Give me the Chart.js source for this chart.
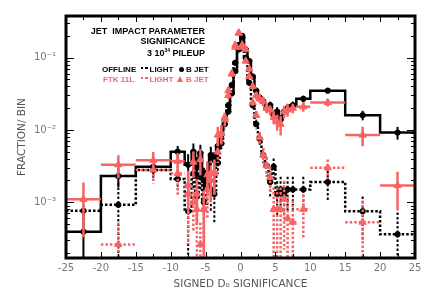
<!DOCTYPE html>
<html lang="en">
<head>
<meta charset="UTF-8">
<title>Jet impact parameter significance</title>
<script src="https://cdn.jsdelivr.net/npm/chart.js"></script>
<style>
  html, body { margin: 0; padding: 0; background: #fff; }
  #wrap { position: relative; width: 436px; height: 295px; }
  #chart { position: absolute; left: 0; top: 0; }
  .note { position: absolute; z-index: 2; font-family: "Liberation Sans", Arial, sans-serif;
          font-weight: bold; line-height: 1; white-space: nowrap; color: #000; }
  .big { font-size: 9px; }
  .small { font-size: 8px; }
  .red { color: #f86464; }
  .note sup { font-size: 5px; vertical-align: 4px; }
  .dots { position: absolute; z-index: 2; width: 7px; height: 2.5px; }
  .dot { position: absolute; z-index: 2; width: 5px; height: 5px; border-radius: 50%; background: #000; }
  .tri { position: absolute; z-index: 2; width: 0; height: 0; border-left: 3.5px solid transparent;
         border-right: 3.5px solid transparent; border-bottom: 6px solid #f86464; }
</style>
</head>
<body>
<div id="wrap">
  <canvas id="chart" width="436" height="295"></canvas>
  <div class="note big" style="right:231px; top:27px;">JET&nbsp; IMPACT PARAMETER</div>
  <div class="note big" style="right:231px; top:37px;">SIGNIFICANCE</div>
  <div class="note big" style="right:231px; top:48px;">3 10<sup>34</sup> PILEUP</div>

  <div class="note small" style="left:102px; top:65.5px;">OFFLINE</div>
  <div class="dots" style="left:141px; top:66.5px; background:repeating-linear-gradient(90deg,#000 0 2.5px,transparent 2.5px 4.5px);"></div>
  <div class="note small" style="left:149.5px; top:65.5px;">LIGHT</div>
  <div class="dot" style="left:178.5px; top:66.5px;"></div>
  <div class="note small" style="left:186px; top:65.5px;">B JET</div>

  <div class="note small red" style="left:103px; top:75.5px;">FTK 11L</div>
  <div class="dots" style="left:141px; top:76.5px; background:repeating-linear-gradient(90deg,#f86464 0 2.5px,transparent 2.5px 4.5px);"></div>
  <div class="note small red" style="left:149.5px; top:75.5px;">LIGHT</div>
  <div class="tri" style="left:177px; top:76px;"></div>
  <div class="note small red" style="left:186px; top:75.5px;">B JET</div>
</div>
<script>
// bin edges of the histograms (signed d0 significance)
const binEdges = [-25, -20, -15, -10, -8, -7, -6.5, -6, -5.5, -5, -4.5, -4, -3.5, -3, -2.5, -2, -1.5, -1, -0.5, 0,
                  0.5, 1, 1.5, 2, 2.5, 3, 3.5, 4, 4.5, 5, 5.5, 6, 6.5, 7, 8, 10, 15, 20, 25];

// fraction per bin
const offlineB = [3.9e-4, 2.3e-3, 3.1e-3, 5.0e-3, 3.3e-3, 5.0e-3, 3.0e-3, 4.8e-3, 2.0e-3, 2.6e-3, 4.5e-3, 3.8e-3, 6.0e-3,
                  8.5e-3, 0.014, 0.018, 0.032, 0.065, 0.13, 0.19, 0.13, 0.09, 0.055, 0.035, 0.028, 0.025, 0.020,
                  0.022, 0.016, 0.018, 0.014, 0.018, 0.020, 0.022, 0.027, 0.035, 0.016, 0.0092];
const offlineLight = [7.6e-4, 9.2e-4, 2.8e-3, 2.1e-3, 7.5e-4, 2.5e-3, 1.2e-3, 2.4e-3, 1.0e-3, 1.8e-3, 1.5e-3, 1.3e-3, 3.5e-3,
                      6.5e-3, 0.012, 0.022, 0.042, 0.085, 0.15, 0.20, 0.10, 0.045, 0.022, 0.012, 0.0075, 0.0045, 0.0032,
                      0.0019, 0.0031, 0.0013, 0.0015, 0.0013, 0.0015, 0.0015, 0.0015, 0.0019, 7.5e-4, 3.6e-4];
const ftkB = [1.1e-3, 3.3e-3, 3.8e-3, 3.7e-3, 1.7e-3, 3.6e-3, 1.3e-3, 3.9e-3, 8e-4, 2.4e-3, 2.0e-3, 2.6e-3, 8.5e-3,
              9e-3, 0.014, 0.035, 0.06, 0.15, 0.22, 0.15, 0.13, 0.07, 0.04, 0.03, 0.027, 0.025, 0.020,
              0.019, 0.015, 0.013, 0.012, 0.018, 0.019, 0.020, 0.021, 0.024, 0.0085, 0.0017];
const ftkLight = [null, 2.6e-4, 2.8e-3, 2.5e-3, 1.3e-3, 1.0e-3, 8e-4, 2.6e-4, 8e-4, 1.5e-3, 2.5e-3, 2.5e-3, 5e-3,
                  9e-3, 0.015, 0.03, 0.06, 0.14, 0.22, 0.14, 0.09, 0.055, 0.024, 0.016, 0.0078, 0.0045, 0.0032,
                  0.0022, 8e-4, 8e-4, 8e-4, 1.1e-3, 6e-4, 5.3e-4, 8e-4, 3.0e-3, 5.3e-4, null];

// relative errors per bin (1 = down to zero)
const offlineBErr = [1, 0.3, 0.25, 0.2, 0.4, 0.3, 0.4, 0.3, 0.5, 0.4, 0.3, 0.3, 0.25, 0.2, 0.12, 0.1, 0.08, 0.05, 0.04,
                     0.04, 0.05, 0.06, 0.08, 0.1, 0.1, 0.12, 0.12, 0.12, 0.15, 0.15, 0.15, 0.15, 0.15, 0.12, 0.1, 0.08, 0.15, 0.2];
const offlineLightErr = [0.4, 1, 0.3, 0.3, 1, 0.4, 0.6, 0.4, 0.7, 0.5, 0.5, 0.6, 0.3, 0.2, 0.15, 0.1, 0.06, 0.04, 0.03,
                         0.03, 0.04, 0.06, 0.1, 0.15, 0.2, 0.25, 0.3, 0.4, 0.3, 0.5, 0.5, 0.5, 0.5, 0.5, 0.5, 0.45, 0.6, 1];
const ftkBErr = [0.7, 0.35, 0.3, 0.3, 0.6, 0.4, 0.6, 0.4, 0.8, 0.5, 0.5, 0.5, 0.3, 0.3, 0.2, 0.12, 0.1, 0.06, 0.05,
                 0.05, 0.06, 0.08, 0.1, 0.12, 0.12, 0.15, 0.15, 0.15, 0.2, 0.25, 0.3, 0.2, 0.2, 0.15, 0.15, 0.12, 0.3, 0.55];
const ftkLightErr = [null, 1, 0.35, 0.5, 0.8, 0.6, 0.8, 1, 0.8, 0.6, 0.5, 0.5, 0.3, 0.25, 0.15, 0.1, 0.08, 0.06, 0.05,
                     0.05, 0.06, 0.08, 0.1, 0.15, 0.2, 0.25, 0.3, 0.4, 1, 1, 1, 0.8, 1, 1, 0.6, 0.3, 1, null];

const xTickStep = 5;
const yTickValues = [1e-1, 1e-2, 1e-3];
const yTickText = ['10\u207B\u00B9', '10\u207B\u00B2', '10\u207B\u00B3'];

const RED = '#f86464';
const GREY = '#777';

// step line: value at each left edge, last value repeated at the right edge
const stepData = vals => binEdges.map((e, i) => ({ x: e, y: vals[Math.min(i, vals.length - 1)] }));
const centerData = vals => vals.map((v, i) => ({ x: (binEdges[i] + binEdges[i + 1]) / 2, y: v })).filter(p => p.y !== null);

// error bars / crosses, drawn just before the marker dataset
const errorBars = {
  id: 'errorBars',
  beforeDatasetDraw(chart, args) {
    const ds = chart.data.datasets[args.index];
    if (!ds.vals) return;
    const { ctx, chartArea: a, scales: { x, y } } = chart;
    ctx.save();
    ctx.beginPath();
    ctx.rect(a.left, a.top, a.right - a.left, a.bottom - a.top);
    ctx.clip();
    ctx.strokeStyle = ds.borderColor;
    ctx.lineWidth = ds.errWidth;
    ctx.setLineDash(ds.dash);
    ds.vals.forEach((v, i) => {
      if (v === null) return;
      const r = ds.err[i];
      const xc = x.getPixelForValue((binEdges[i] + binEdges[i + 1]) / 2);
      const yv = y.getPixelForValue(v);
      const yHi = y.getPixelForValue(v * (1 + r));
      const yLo = r >= 1 ? a.bottom + 5 : y.getPixelForValue(v * (1 - r));
      ctx.beginPath();
      ctx.moveTo(xc, yHi);
      ctx.lineTo(xc, yLo);
      if (ds.cross) {
        ctx.moveTo(x.getPixelForValue(binEdges[i]), yv);
        ctx.lineTo(x.getPixelForValue(binEdges[i + 1]), yv);
      }
      ctx.stroke();
    });
    ctx.restore();
  }
};

// inward ticks and the heavy frame
const frame = {
  id: 'frame',
  afterDraw(chart) {
    const { ctx, chartArea: a, scales: { x, y } } = chart;
    ctx.save();
    ctx.strokeStyle = '#000';
    ctx.lineWidth = 1;
    ctx.beginPath();
    for (let v = -25; v <= 25; v += 2.5) {
      const px = Math.round(x.getPixelForValue(v)) + 0.5;
      const len = v % 5 === 0 ? 6 : 4;
      ctx.moveTo(px, a.bottom); ctx.lineTo(px, a.bottom - len);
      ctx.moveTo(px, a.top); ctx.lineTo(px, a.top + len);
    }
    for (let e = -4; e <= -1; e++) {
      for (let m = 1; m <= 9; m++) {
        const v = m * Math.pow(10, e);
        if (v < y.min || v > y.max) continue;
        const py = Math.round(y.getPixelForValue(v)) + 0.5;
        const len = m === 1 ? 8 : 4;
        ctx.moveTo(a.left, py); ctx.lineTo(a.left + len, py);
        ctx.moveTo(a.right, py); ctx.lineTo(a.right - len, py);
      }
    }
    ctx.stroke();
    ctx.lineWidth = 3;
    ctx.strokeRect(a.left, a.top, a.right - a.left, a.bottom - a.top);
    ctx.restore();
  }
};

const ctx = document.getElementById('chart').getContext('2d');
new Chart(ctx, {
  data: {
    datasets: [
      { type: 'line', label: 'offline B', data: stepData(offlineB), stepped: true, borderColor: '#000',
        borderWidth: 2.5, pointRadius: 0, order: 6 },
      { type: 'line', label: 'offline light', data: stepData(offlineLight), stepped: true, borderColor: '#000',
        borderWidth: 2.5, borderDash: [2.5, 2], pointRadius: 0, order: 5 },
      { type: 'scatter', label: 'offline light pts', data: centerData(offlineLight), vals: offlineLight,
        err: offlineLightErr, dash: [2.5, 2], errWidth: 2, cross: false, borderColor: '#000',
        backgroundColor: '#000', pointStyle: 'circle', pointRadius: 2.7, order: 4 },
      { type: 'scatter', label: 'offline B pts', data: centerData(offlineB), vals: offlineB,
        err: offlineBErr, dash: [], errWidth: 2, cross: false, borderColor: '#000',
        backgroundColor: '#000', pointStyle: 'circle', pointRadius: 2.7, order: 3 },
      { type: 'scatter', label: 'FTK light', data: centerData(ftkLight), vals: ftkLight,
        err: ftkLightErr, dash: [2.5, 2], errWidth: 2.5, cross: true, borderColor: RED,
        backgroundColor: RED, pointStyle: 'triangle', pointRadius: 4.2, order: 2 },
      { type: 'scatter', label: 'FTK B', data: centerData(ftkB), vals: ftkB,
        err: ftkBErr, dash: [], errWidth: 2.5, cross: true, borderColor: RED,
        backgroundColor: RED, pointStyle: 'triangle', pointRadius: 4.2, order: 1 }
    ]
  },
  options: {
    responsive: false,
    animation: false,
    layout: { padding: { left: 0, right: 21, top: 14, bottom: 0 } },
    plugins: { legend: { display: false }, tooltip: { enabled: false } },
    scales: {
      x: {
        type: 'linear', min: -25, max: 25,
        grid: { display: false, drawTicks: false }, border: { display: false },
        ticks: { stepSize: xTickStep, color: GREY, padding: 4, maxRotation: 0,
                 font: { family: 'DejaVu Sans', size: 10 } },
        title: { display: true, text: 'SIGNED D\u2080 SIGNIFICANCE', color: '#555',
                 font: { family: 'DejaVu Sans', size: 10.5 }, padding: { top: 0, bottom: 4 } },
        afterFit: s => { s.height = 37; }
      },
      y: {
        type: 'logarithmic', min: 1.69e-4, max: 0.378,
        grid: { display: false, drawTicks: false }, border: { display: false },
        ticks: {
          autoSkip: false, color: GREY, padding: 10, font: { family: 'DejaVu Sans', size: 10 },
          callback: v => {
            const k = yTickValues.findIndex(t => Math.abs(v / t - 1) < 1e-6);
            return k >= 0 ? yTickText[k] : '';
          }
        },
        title: { display: true, text: 'FRACTION/ BIN', color: '#555',
                 font: { family: 'DejaVu Sans', size: 10.5 }, padding: { top: 16, bottom: 0 } },
        afterFit: s => { s.width = 66; }
      }
    }
  },
  plugins: [errorBars, frame]
});
</script>
</body>
</html>
